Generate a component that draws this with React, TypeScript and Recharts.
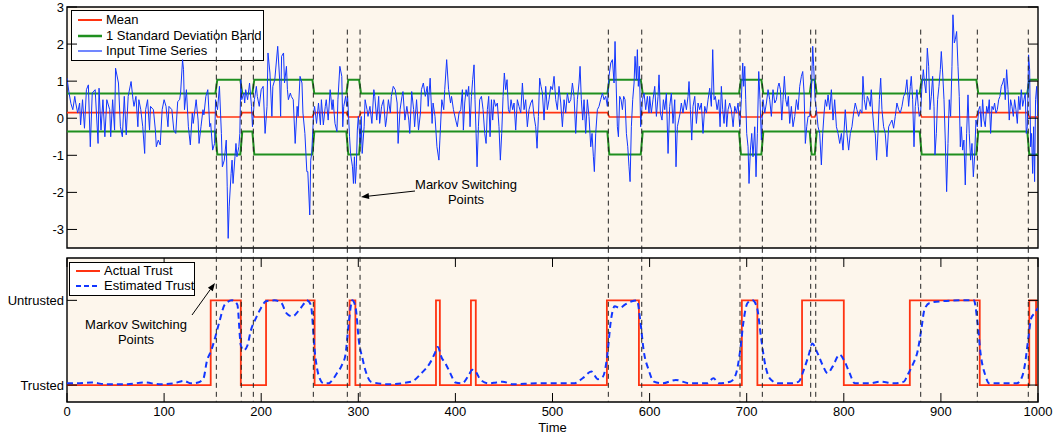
import React from 'react';
import { LineChart, Line, XAxis, YAxis, CartesianGrid, ReferenceLine, ReferenceArea } from 'recharts';

// ---------- data ----------
const seriesA: [number, number][] = [
  [0,1.08],[2,0.7],[4,0.4],[6,0.23],[8,0.59],[9,0.41],[11,0.14],[13,0.41],[14,-0.18],[16,0.5],[18,-0.27],[20,0.77],[22,0.9],[24,-0.77],[26,0.68],[29,0.77],[32,-0.68],[33,0.81],[35,-0.32],[37,0.5],[39,-0.5],[41,0.5],[44,0.23],[45,-0.5],[47,0.5],[49,-0.32],[50,1.35],[53,0.95],[55,-0.23],[57,-0.5],[59,0.59],[61,-0.45],[63,0.59],[66,0.99],[68,0.5],[69,0.32],[71,0.59],[73,-0.23],[74,0.5],[76,0.23],[78,-0.23],[80,-0.95],[81,0.23],[83,0.5],[85,-0.32],[86,0.32],[89,0.23],[91,-0.32],[92,-0.77],[94,-0.59],[96,-0.72],[98,0.23],[100,0.5],[102,0.32],[104,-0.23],[105,0.32],[108,0.23],[110,-0.32],[112,-0.41],[114,0.45],[116,0.5],[117,0.68],[119,1.58],[120,1.31],[121,0.23],[123,0.77],[125,-0.23],[127,-0.72],[129,0.14],[130,-0.14],[133,0.5],[135,-0.05],[136,-0.68],[138,-0.23],[140,0.23],[141,0.09],[143,0.59],[145,0.77],[147,-0.23],[148,-0.14],[150,-0.86],[152,-0.68],[153,0.5],[155,0.23],[157,0.86],[159,-0.41],[160,-1.31],[162,-1.13],[164,-0.59],[165,-1.85],[166,-3.24],[167,-2.39],[169,-1.49],[170,-1.13],[171,-1.76],[173,-1.04],[174,-0.68],[175,-1.04],[177,-0.77],[178,-0.41],[179,1.04],[180,0.5],[182,0.68],[183,0.41],[184,0.77],[186,0.5],[188,0.95],[190,0.32],[191,-0.23],[193,0.5],[195,0.86],[196,0.59],[198,0.32],[200,0.77]
];
const seriesB: [number, number][] = [
  [202,0.86],[204,-0.41],[206,0.32],[207,1.76],[209,1.22],[211,0.05],[212,0.86],[214,1.04],[217,1.94],[219,1.04],[220,0.05],[221,1.67],[223,1.76],[224,0.95],[226,1.4],[227,0.77],[228,0.5],[230,0.68],[231,0.59],[233,0.5],[235,-0.68],[237,0.32],[238,0.05],[240,1.13],[242,0.95],[243,0.14],[245,-0.41],[247,-1.44],[248,-1.44],[250,-2.61],[251,-1.13],[252,-0.95],[254,0.14],[255,0.32],[257,-0.14],[259,0.41],[261,-0.18],[262,0.5],[264,-0.18],[266,0.32],[267,0.5],[269,-0.05],[271,0.77],[273,0.23],[274,0.5],[276,-0.14],[278,-0.36],[279,0.5],[281,1.4],[283,1.13],[284,-0.23],[285,0.32],[287,0.59],[288,0.32],[289,0.59],[291,-0.5],[292,-0.95],[294,-1.31],[295,-1.76],[296,-1.04],[297,-1.76],[298,-1.31],[299,-0.32],[300,0.05],[302,-0.68],[303,0.05],[304,-0.95],[306,-0.23],[307,0.5],[309,0.23],[310,0.05],[312,0.32],[314,-0.14],[316,0.77],[317,0.59],[319,-0.05],[321,0.59],[322,-0.14],[324,0.32],[326,0.5],[328,-0.23],[329,-0.05],[331,0.5],[333,0.14],[334,0.59],[336,0.86],[338,0.77],[340,0.41],[341,-0.68],[343,0.23],[345,0.59],[346,0.72],[348,-0.05],[350,0.32],[352,-0.05],[353,-0.41],[355,0.72],[357,0.23],[358,-0.23],[360,0.5],[362,-0.32],[364,0.14],[365,0.77],[367,0.95],[369,0.59],[371,0.86],[372,0.32],[374,1.08],[376,-0.14],[377,0.41],[379,0.05],[381,-0.77],[383,-1.13],[384,-0.59],[386,0.5],[388,0.23],[389,0.77],[391,1.58],[393,0.77],[395,0.41],[396,0.59],[398,0.23]
];
const seriesC: [number, number][] = [
  [400.3,-0.05],[402,-0.23],[403.7,0.14],[405.5,0.23],[407.2,0.77],[408.2,-0.32],[409.6,0.41],[411,0.77],[412.3,0.59],[413.7,0.86],[415.1,-0.23],[416.5,0.59],[417.8,1.04],[419.2,1.44],[420.2,0.5],[421.3,-0.41],[422.3,-1.31],[423.7,-0.23],[425,0.5],[426.8,0.59],[428.5,0.23],[430.2,-0.41],[431.6,-0.68],[432.9,0.23],[434.3,0.59],[435.7,-0.5],[437.1,0.5],[438.4,-0.05],[439.8,0.5],[441.5,0.32],[443.2,0.41],[444.9,-0.23],[446.3,-1.13],[447.7,-0.41],[449.1,0.59],[450.4,1.22],[451.8,0.77],[453.2,1.04],[454.6,0.23],[455.9,0.14],[457.3,0.5],[459,0.23],[460.4,0.41],[462.1,-0.32],[463.8,0.5],[465.5,0.32],[467.3,0.14],[469,0.95],[470.7,0.23],[472.4,0.5],[474.1,-0.23],[475.8,0.23],[477.6,0.41],[479.3,0.5],[481,0.05],[482.7,-0.23],[484.1,-0.81],[485.5,0.05],[486.8,1.08],[488.2,0.86],[489.6,0.68],[491.3,-0.05],[493,0.86],[494.7,0.23],[496.4,0.5],[498.2,0.86],[499.9,0.77],[501.6,1.13],[503.3,0.5],[505,0.23],[506.7,0.86],[508.5,0.41],[510.2,-0.23],[511.9,0.5],[513.6,0.14],[515.3,0.68],[517,0.41],[518.8,0.5],[520.5,0.95],[522.2,0.59],[523.9,-0.41],[525.6,0.5],[527.3,0.95],[528.4,1.4],[529.7,0.5],[531.1,-0.05],[532.5,0.5],[534.2,-0.41],[535.9,0.5],[537.6,0.05],[539.4,-0.77],[540.7,-0.41],[542.1,-1.04],[543.1,-1.44],[544.5,-0.41],[546.2,0.23],[547.9,0.32],[549.6,0.5],[551.4,0.68],[553.1,0.5],[554.8,0.59],[556.5,0.32],[558.2,1.13],[560,1.49],[561.7,1.58],[563.4,0.95],[564.4,2.07],[565.8,0.68],[566.8,-0.23],[567.9,-0.5],[569.2,0.59],[570.6,0.5],[572,0.23],[573.3,0.59],[574.7,0.5],[576.1,-0.41],[577.5,-0.77],[578.8,-1.31],[579.9,-1.71],[581.2,-0.23],[582.6,0.5],[584,0.95],[585,1.67],[586.4,1.04],[587.4,1.85],[588.4,0.86],[589.5,1.4],[590.8,-0.23],[592.6,0.5],[594.3,0.68],[596,0.23],[597.7,0.59],[599.4,0.14]
];
const seriesD: [number, number][] = [
  [600.1,0.59],[601.8,0.14],[603.5,0.5],[605.3,0.86],[607,0.05],[608.7,0.59],[609.7,1.17],[611.1,0.14],[612.8,-0.05],[614.2,0.5],[615.6,0.23],[617.3,0.68],[619,-0.95],[620.7,0.32],[622.4,0.68],[624.1,-0.14],[625.9,0.5],[627.2,-1.31],[628.6,-0.23],[630,-0.05],[631.4,0.14],[632.7,0.41],[634.4,0.14],[636.2,0.5],[637.9,0.23],[639.6,0.59],[640.6,0.99],[642,0.23],[643.4,-0.59],[644.7,0.32],[646.5,0.59],[648.2,-0.14],[649.9,0.41],[651.6,0.23],[653.3,0.41],[655,-0.41],[656.8,0.32],[658.5,0.14],[660.2,0.5],[661.9,0.81],[663.6,0.32],[665,1.85],[666.4,0.5],[667.7,0.59],[669.5,0.23],[671.2,0.5],[672.6,-0.23],[673.9,0.86],[675.3,0.23],[676.7,-0.14],[678.1,0.5],[679.4,-0.23],[680.8,0.23],[682.5,0.41],[684.2,0.23],[686,-0.23],[687.7,0.32],[689.4,0.14],[691.1,0.41],[692.8,-0.23],[694.5,0.5],[695.9,1.49],[696.9,0.86],[698,1.4],[699,0.5],[700,-0.41],[701.4,-0.77],[702.4,-1.76],[703.8,-0.86],[705.2,-0.41],[706.5,-1.04],[708.3,-0.23],[709.6,-1.58],[711,-0.41],[712.4,1.26],[713.7,0.5],[715.1,-0.59],[716.8,0.5],[718.6,0.14],[720.3,0.41],[722,0.77],[723.7,0.5],[725.4,0.05],[727.1,0.77],[728.9,0.41],[730.6,0.5],[732.3,0.86],[733.3,0.95],[734.7,0.77],[736.1,-0.05],[737.4,0.5],[738.8,1.13],[740.2,0.5],[741.6,0.32],[742.9,0.59],[744.3,-0.14],[746,0.32],[747.7,-0.23],[749.5,0.05],[751.2,0.5],[752.9,0.23],[754.6,0.86],[756.3,1.13],[757.7,1.26],[759.1,0.68],[760.4,-0.68],[761.8,-0.23],[763.2,0.05],[764.9,0.05],[766.6,0.68],[768,1.94],[769,1.4],[770.4,0.5],[771.8,0.23],[773.5,-0.23],[775.2,-0.41],[776.9,-1.26],[778.3,-0.41],[779.7,0.14],[781,0.5],[782.4,0.32],[783.8,0.63],[785.5,0.23],[787.2,0.77],[788.9,-0.05],[790.6,0.5],[792.4,-0.23],[794.1,-0.41],[795.8,-0.68],[797.5,-0.41],[799.2,-0.86]
];
const seriesE: [number, number][] = [
  [801.5,0.23],[803.2,-0.41],[805,-0.86],[806.7,-0.41],[808.4,-0.23],[810.1,0.14],[811.8,0.41],[813.5,0.23],[815.3,0.05],[817,0.23],[818.7,0.14],[819.7,1.13],[821.1,0.5],[822.8,0.23],[824.2,0.59],[825.6,0.5],[827.3,0.32],[828.3,0.77],[829.7,0.14],[831.1,-0.32],[832.4,-0.41],[833.8,-1.13],[835.2,-0.41],[836.6,0.5],[838,1.08],[839.3,0.23],[841,-0.23],[842.7,-0.41],[844.4,-1.04],[846.2,-0.23],[847.9,-0.14],[849.6,-0.05],[851.3,-0.27],[853,0.05],[854.7,0.41],[856.5,0.23],[858.2,0.14],[859.9,0.32],[861.6,0.59],[863.3,0.68],[865,1.04],[866.8,0.32],[868.5,0.86],[869.5,1.13],[870.9,0.5],[872.3,-0.77],[873.6,0.32],[875.3,0.77],[876.7,0.32],[877.7,0.05],[879.1,0.14],[880.5,0.86],[881.9,1.31],[883.2,0.95],[884.6,0.68],[886,1.89],[887.4,1.4],[888.7,0.23],[890.1,0.59],[891.5,1.13],[892.9,0.32],[893.9,-0.99],[895.3,-0.41],[896.6,0.5],[898,0.86],[899.4,1.31],[900.4,1.8],[901.8,1.22],[903.2,0.5],[904.5,-0.59],[905.9,-1.98],[907.3,-0.68],[908.6,0.5],[910,0.05],[911.4,1.4],[912.4,2.79],[913.8,2.03],[914.8,2.12],[916.2,2.34],[917.6,1.4],[918.9,0.59],[920,-0.77],[921,-0.23],[922.4,-0.86],[923.7,-0.59],[925.1,-1.8],[926.5,-0.41],[927.9,0.63],[929.2,-0.41],[930.6,-1.13],[932,-0.68],[933.4,-1.58],[934.7,-1.04],[936.1,-0.05],[937.5,-0.23],[938.9,0.23],[940.2,0.32],[941.6,-0.23],[943,0.5],[944.3,-0.05],[945.7,-0.23],[947.1,0.32],[948.5,0.14],[949.8,0.5],[951.2,-0.41],[952.6,0.32],[954,0.23],[955.3,0.41],[956.7,0.14],[958.1,0.23],[959.5,0.5],[960.8,0.59],[962.2,0.86],[963.6,0.95],[965,1.08],[966.3,0.5],[967.7,1.31],[969.1,0.77],[970.4,-0.05],[971.8,0.5],[973.2,0.32],[974.6,0.05],[975.9,0.5],[977.3,0.23],[978.7,-0.14],[980.1,0.59],[981.4,0.23],[982.8,0.77],[984.2,0.32],[985.5,0.5],[986.9,0.68],[987.9,-0.41],[989,-0.23],[990.3,1.71],[991.4,1.31],[992.4,-0.77],[993.4,-0.41],[994.5,-1.49],[995.5,-0.23],[996.5,-1.71],[997.5,0.5],[998.6,0.86],[1000,0.05]
];

// Markov switching points (time)
const switchTimes = [153.8, 179.5, 191.9, 253.7, 288.7, 301.8, 557.5, 591.9, 693.1, 716.1, 765.9, 771.1, 879.2, 937.5, 990];
// regime levels: [trusted regime, untrusted regime]
const meanLevels = [0.15, 0.035];
const upperLevels = [0.665, 1.04];
const lowerLevels = [-0.36, -0.98];

const actualTrust: [number, number][] = [
  [0,0],[148,1],[179,0],[205,1],[255,0],[291,1],[297,0],[380,1],[384,0],[416,1],[421,0],[556,1],[589,0],[695,1],[711,0],[757,1],[800,0],[868,1],[940,0],[991,1],[998,0],[1000,0]
];
const estimatedTrust: [number, number][] = [
  [0,0.02],[10,0.02],[25,0.03],[40,0.01],[60,0.01],[80,0.03],[95,0.01],[110,0.02],[120,0.05],[128,0.02],[135,0.03],[140.6,0.08],[144,0.28],[148.6,0.41],[152.8,0.57],[157,0.75],[162.5,0.95],[170,1.0],[175.4,0.95],[179,0.47],[182,0.41],[185.9,0.47],[189,0.63],[194.6,0.79],[199.8,0.91],[205,0.99],[213.7,1.0],[220.7,0.97],[225.9,0.85],[232.2,0.81],[238,0.87],[243.3,0.95],[246.8,1.0],[251,0.95],[255.5,0.36],[259,0.12],[264.2,0.02],[269.4,0.02],[274.6,0.08],[278,0.14],[283.3,0.24],[286.8,0.36],[290.3,0.75],[293.8,1.0],[297.3,0.91],[300.7,0.51],[304.2,0.32],[307.7,0.16],[312.9,0.04],[330,0.01],[354.7,0.04],[365,0.14],[373.8,0.26],[379,0.38],[381.8,0.45],[386,0.32],[389.5,0.26],[394.7,0.14],[400,0.03],[406.9,0.02],[413.9,0.12],[417.3,0.18],[420.8,0.16],[426,0.06],[434.7,0.02],[442,0.03],[448.7,0.04],[459,0.01],[483.5,0.02],[500,0.02],[522,0.02],[531,0.08],[540,0.16],[546.6,0.07],[552,0.1],[556.5,0.36],[560,0.75],[564,0.93],[569.4,0.91],[574.7,0.95],[581.7,0.99],[587,1.0],[590.5,0.75],[594,0.4],[599,0.18],[604.5,0.04],[613,0.02],[627,0.06],[641,0.02],[658.8,0.02],[665.8,0.08],[671,0.02],[683,0.04],[688.6,0.12],[693.2,0.4],[696.7,0.75],[700.9,0.97],[706,1.0],[710.7,0.91],[714.9,0.55],[718.4,0.28],[723.7,0.08],[732.5,0.02],[746.5,0.02],[753.5,0.04],[758.8,0.18],[764,0.36],[767.5,0.49],[772.8,0.38],[778,0.24],[783.3,0.14],[788.6,0.22],[795.6,0.36],[800.8,0.28],[806,0.14],[811.3,0.02],[827,0.02],[837.5,0.04],[851.7,0.02],[862,0.04],[865.7,0.12],[871,0.24],[876,0.4],[880,0.67],[883,0.89],[888.5,0.97],[900.8,0.99],[921.8,1.0],[934,1.0],[937.6,0.75],[941,0.36],[945.6,0.12],[949.9,0.02],[978,0.02],[983,0.08],[986.5,0.24],[990,0.55],[993,0.79],[996.6,0.85],[1000,0.91]
];

const topYTicks = [-3, -2, -1, 0, 1, 2, 3];
const xTicks = [0, 100, 200, 300, 400, 500, 600, 700, 800, 900, 1000];
const trustTickValues = [0, 1];
const trustTickLabels = ['Trusted', 'Untrusted'];

// ---------- derived tables ----------
const toPts = (arr: [number, number][]) => arr.map(([t, v]) => ({ t, v }));
const inputData = toPts([...seriesA, ...seriesB, ...seriesC, ...seriesD, ...seriesE]);

const buildBand = (levels: number[]) => {
  const pts: { t: number; v: number }[] = [{ t: 0, v: levels[0] }];
  let state = 0;
  switchTimes.forEach((s) => {
    pts.push({ t: s - 1, v: levels[state] });
    state = 1 - state;
    pts.push({ t: s + 1, v: levels[state] });
  });
  pts.push({ t: 1000, v: levels[state] });
  return pts;
};
const meanData = buildBand(meanLevels);
const upperData = buildBand(upperLevels);
const lowerData = buildBand(lowerLevels);
const actualData = toPts(actualTrust);
const estimatedData = toPts(estimatedTrust);

// ---------- style ----------
const FONT = '"Liberation Sans", Arial, Helvetica, sans-serif';
const PLOT_BG = '#FDF6EC';
const RED = '#FF3311';
const GREEN = '#1F8F1F';
const BLUE = '#1236FF';
const TOP_Y: [number, number] = [-3.5, 3];
const BOT_Y: [number, number] = [-0.2, 1.5];

const LegendRow = ({ y, color, dash, width, label }: { y: number; color: string; dash?: string; width: number; label: string }) => (
  <div style={{ position: 'absolute', left: 0, top: y - 8, height: 16, display: 'flex', alignItems: 'center' }}>
    <svg width={34} height={16} style={{ display: 'block' }}>
      <line x1={6} y1={8} x2={30} y2={8} stroke={color} strokeWidth={width} strokeDasharray={dash} />
    </svg>
    <span style={{ fontSize: 13, color: '#000', whiteSpace: 'nowrap', lineHeight: '16px' }}>{label}</span>
  </div>
);

export default function App() {
  const tickStyle = { fill: '#000', fontSize: 13, fontFamily: FONT };
  return (
    <div style={{ position: 'absolute', left: 0, top: 0, width: 1053, height: 435, background: '#fff', fontFamily: FONT, overflow: 'hidden' }}>
      {/* top plot background (behind legend and chart) */}
      <div style={{ position: 'absolute', left: 67, top: 7, width: 971, height: 241, background: PLOT_BG }} />
      {/* top legend */}
      <div style={{ position: 'absolute', left: 71, top: 10, width: 193, height: 51, background: '#fff', border: '1.5px solid #000', boxSizing: 'border-box' }}>
        <LegendRow y={9} color={RED} width={2} label="Mean" />
        <LegendRow y={25} color={GREEN} width={2.5} label="1 Standard Deviation Band" />
        <LegendRow y={40} color={BLUE} width={1.2} label="Input Time Series" />
      </div>

      {/* top chart */}
      <div style={{ position: 'absolute', left: 0, top: 0 }}>
        <LineChart width={1053} height={250} margin={{ top: 7, right: 15, bottom: 2, left: 12 }}>
          <XAxis type="number" dataKey="t" domain={[0, 1000]} hide allowDataOverflow />
          <YAxis type="number" domain={TOP_Y} ticks={topYTicks} interval={0} width={55} allowDataOverflow
            tickLine={false} axisLine={false} tickSize={0} tickMargin={3} tick={tickStyle} />
          <Line data={meanData} dataKey="v" type="linear" stroke={RED} strokeWidth={1.6} dot={false} isAnimationActive={false} />
          <Line data={upperData} dataKey="v" type="linear" stroke={GREEN} strokeWidth={2} dot={false} isAnimationActive={false} />
          <Line data={lowerData} dataKey="v" type="linear" stroke={GREEN} strokeWidth={2} dot={false} isAnimationActive={false} />
          <Line data={inputData} dataKey="v" type="linear" stroke={BLUE} strokeWidth={1} dot={false} isAnimationActive={false} />
          {switchTimes.map((s) => (
            <ReferenceLine key={'ts' + s} segment={[{ x: s, y: 2.39 }, { x: s, y: TOP_Y[0] }]} stroke="#222" strokeWidth={1} strokeDasharray="5 4" ifOverflow="visible" />
          ))}
          {topYTicks.map((v) => (
            <ReferenceLine key={'tl' + v} segment={[{ x: 0, y: v }, { x: 10.3, y: v }]} stroke="#000" strokeWidth={1} ifOverflow="visible" />
          ))}
          {topYTicks.map((v) => (
            <ReferenceLine key={'tr' + v} segment={[{ x: 989.7, y: v }, { x: 1000, y: v }]} stroke="#000" strokeWidth={1} ifOverflow="visible" />
          ))}
          <ReferenceArea x1={0} x2={1000} y1={TOP_Y[0]} y2={TOP_Y[1]} fill="none" fillOpacity={0} stroke="#000" strokeWidth={1.4} ifOverflow="visible" />
        </LineChart>
      </div>

      {/* bottom chart */}
      <div style={{ position: 'absolute', left: 0, top: 248 }}>
        <LineChart width={1053} height={187} margin={{ top: 10, right: 15, bottom: 0, left: 1 }}>
          <CartesianGrid horizontal={false} vertical={false} fill={PLOT_BG} stroke="none" />
          <XAxis type="number" dataKey="t" domain={[0, 1000]} ticks={xTicks} interval={0} height={33} allowDataOverflow
            tickLine={false} axisLine={false} tickSize={0} tickMargin={5} tick={tickStyle}
            label={{ value: 'Time', position: 'insideBottom', offset: 3, fill: '#000', fontSize: 13, fontFamily: FONT }} />
          <YAxis type="number" domain={BOT_Y} ticks={trustTickValues} interval={0} width={66} allowDataOverflow
            tickFormatter={(v: number) => trustTickLabels[trustTickValues.indexOf(v)]}
            tickLine={false} axisLine={false} tickSize={0} tickMargin={3} tick={tickStyle} />
          <Line data={actualData} dataKey="v" type="stepAfter" stroke={RED} strokeWidth={1.8} dot={false} isAnimationActive={false} />
          <Line data={estimatedData} dataKey="v" type="monotone" stroke={BLUE} strokeWidth={2} strokeDasharray="6 4" dot={false} isAnimationActive={false} />
          {switchTimes.map((s) => (
            <ReferenceLine key={'bs' + s} segment={[{ x: s, y: 1.62 }, { x: s, y: BOT_Y[0] }]} stroke="#222" strokeWidth={1} strokeDasharray="5 4" ifOverflow="visible" />
          ))}
          {xTicks.map((t) => (
            <ReferenceLine key={'bt' + t} segment={[{ x: t, y: BOT_Y[1] }, { x: t, y: BOT_Y[1] - 0.106 }]} stroke="#000" strokeWidth={1} ifOverflow="visible" />
          ))}
          {xTicks.map((t) => (
            <ReferenceLine key={'bb' + t} segment={[{ x: t, y: BOT_Y[0] }, { x: t, y: BOT_Y[0] + 0.106 }]} stroke="#000" strokeWidth={1} ifOverflow="visible" />
          ))}
          {trustTickValues.map((v) => (
            <ReferenceLine key={'bl' + v} segment={[{ x: 0, y: v }, { x: 10.3, y: v }]} stroke="#000" strokeWidth={1} ifOverflow="visible" />
          ))}
          {trustTickValues.map((v) => (
            <ReferenceLine key={'br' + v} segment={[{ x: 989.7, y: v }, { x: 1000, y: v }]} stroke="#000" strokeWidth={1} ifOverflow="visible" />
          ))}
          <ReferenceArea x1={0} x2={1000} y1={BOT_Y[0]} y2={BOT_Y[1]} fill="none" fillOpacity={0} stroke="#000" strokeWidth={1.4} ifOverflow="visible" />
        </LineChart>
      </div>

      {/* bottom legend */}
      <div style={{ position: 'absolute', left: 69, top: 262, width: 126, height: 34, background: '#fff', border: '1.5px solid #000', boxSizing: 'border-box' }}>
        <LegendRow y={8} color={RED} width={2} label="Actual Trust" />
        <LegendRow y={23} color={BLUE} width={2} dash="5 3" label="Estimated Trust" />
      </div>

      {/* annotations */}
      <svg width={1053} height={435} style={{ position: 'absolute', left: 0, top: 0, pointerEvents: 'none' }}>
        <g fontFamily={FONT} fontSize={13} fill="#000" textAnchor="middle">
          <text x={466} y={188.5}>Markov Switching</text>
          <text x={466} y={203.5}>Points</text>
          <text x={136} y={329}>Markov Switching</text>
          <text x={136} y={343.5}>Points</text>
        </g>
        <line x1={415} y1={191} x2={368} y2={196.2} stroke="#000" strokeWidth={1} />
        <polygon points="361,197 369.3,199.1 368.6,193.1" fill="#000" />
        <line x1={192} y1={315} x2={210.3} y2={289.5} stroke="#000" strokeWidth={1} />
        <polygon points="215,283 212.8,291.3 207.9,287.7" fill="#000" />
      </svg>
    </div>
  );
}
